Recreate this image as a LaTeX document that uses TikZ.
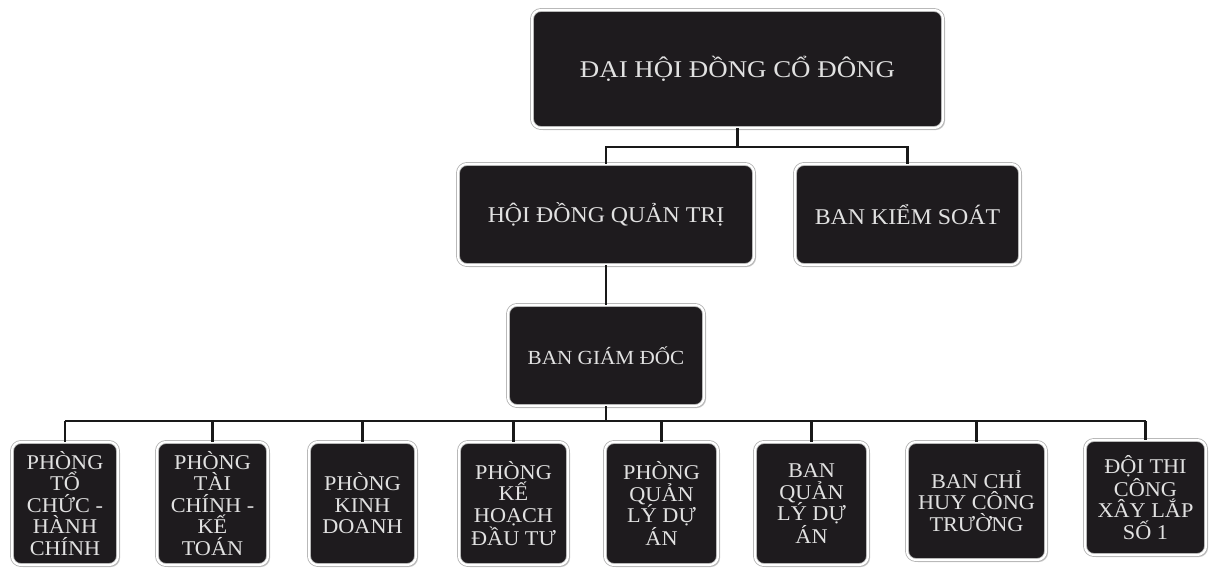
\documentclass[tikz,border=0pt]{standalone}
\usepackage{fontspec}
\setmainfont{Liberation Serif}
\newfontfamily\widefont[FakeStretch=1.12]{Liberation Serif}
\newfontfamily\midwide[FakeStretch=1.06]{Liberation Serif}
\usetikzlibrary{shadows}
\definecolor{boxfill}{RGB}{30,27,30}
\definecolor{boxtext}{RGB}{225,225,225}
\definecolor{linec}{RGB}{25,25,25}
\definecolor{edgec}{RGB}{175,175,175}
\tikzset{
  orgbox/.style={draw=edgec, line width=0.8pt, double=white, double distance=2.2pt,
    fill=boxfill, rounded corners=9pt,
    text=boxtext, align=center, inner sep=0pt,
    drop shadow={opacity=0.4, shadow xshift=2pt, shadow yshift=-2pt, fill=gray}},
  bigtext/.style={font=\widefont\fontsize{24}{26}\selectfont},
  midtext/.style={font=\midwide\fontsize{22.5}{24}\selectfont},
  smalltext/.style={font=\midwide\fontsize{20}{22}\selectfont},
  lowtext/.style={font=\midwide\fontsize{21}{21.5}\selectfont},
  conn/.style={draw=linec, line width=2.6pt}
}
\begin{document}
\begin{tikzpicture}[x=1pt,y=-1pt]
\useasboundingbox[fill=white] (0,0) rectangle (1212,573);
% top
\node[orgbox, bigtext, minimum width=411, minimum height=118] (top) at (737.5,69) {ĐẠI HỘI ĐỒNG CỔ ĐÔNG};
\node[orgbox, midtext, minimum width=296, minimum height=101] (hdqt) at (606,214.5) {HỘI ĐỒNG QUẢN TRỊ};
\node[orgbox, midtext, minimum width=225, minimum height=101] (bks) at (907.5,214.5) {BAN KIỂM SOÁT};
\node[orgbox, smalltext, minimum width=196, minimum height=101] (bgd) at (606,355.5) {BAN GIÁM ĐỐC};
% bottom row
\node[orgbox, lowtext, minimum width=106, minimum height=123] (b1) at (65,503.5) {PHÒNG\\TỔ\\CHỨC -\\HÀNH\\CHÍNH};
\node[orgbox, lowtext, minimum width=111, minimum height=123] (b2) at (212.5,503.5) {PHÒNG\\TÀI\\CHÍNH -\\KẾ\\TOÁN};
\node[orgbox, lowtext, minimum width=107, minimum height=123] (b3) at (362.5,503.5) {PHÒNG\\KINH\\DOANH};
\node[orgbox, lowtext, minimum width=109, minimum height=123] (b4) at (513.5,503.5) {PHÒNG\\KẾ\\HOẠCH\\ĐẦU TƯ};
\node[orgbox, lowtext, minimum width=113, minimum height=123] (b5) at (661.5,503.5) {PHÒNG\\QUẢN\\LÝ DỰ\\ÁN};
\node[orgbox, lowtext, minimum width=113, minimum height=123] (b6) at (811.5,503.5) {BAN\\QUẢN\\LÝ DỰ\\ÁN};
\node[orgbox, lowtext, minimum width=139, minimum height=118] (b7) at (976.5,501) {BAN CHỈ\\HUY CÔNG\\TRƯỜNG};
\node[orgbox, lowtext, minimum width=121, minimum height=115] (b8) at (1145.5,497.5) {ĐỘI THI\\CÔNG\\XÂY LẮP\\SỐ 1};
% connectors
\coordinate (topbus) at (0,147);
\draw[conn] (top.south) -- (top.south |- topbus);
\draw[conn] (top.south |- topbus) -| (hdqt.north);
\draw[conn] (top.south |- topbus) -| (bks.north);
\draw[conn] (hdqt.south) -- (bgd.north);
\coordinate (lowbus) at (0,421);
\draw[conn] (bgd.south) -- (bgd.south |- lowbus);
\draw[conn] (b1.north |- lowbus) -- (b8.north |- lowbus);
\foreach \b in {b1,b2,b3,b4,b5,b6,b7,b8}{
  \draw[conn] (\b.north |- lowbus) -- (\b.north);
}
\end{tikzpicture}
\end{document}
